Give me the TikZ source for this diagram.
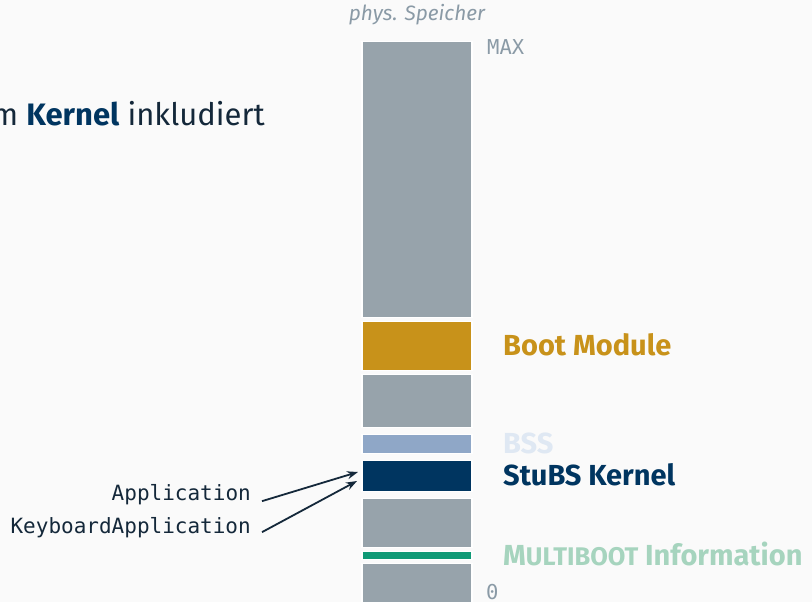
\documentclass[tikz,border=0pt]{standalone}
\usepackage{fontspec}
\setmainfont{Fira Sans}
\setmonofont{DejaVu Sans Mono}
\usetikzlibrary{arrows.meta}
\definecolor{bgc}{HTML}{FAFAFA}
\definecolor{memgrey}{HTML}{97A3AB}
\definecolor{gold}{HTML}{C8921A}
\definecolor{bsscol}{HTML}{8FA7C7}
\definecolor{kern}{HTML}{003560}
\definecolor{mbgreen}{HTML}{0F9A76}
\definecolor{bsstext}{HTML}{DFE8F3}
\definecolor{mbtext}{HTML}{A6D4BE}
\definecolor{darktext}{HTML}{14283A}
\definecolor{greytext}{HTML}{8A9AA6}
\tikzset{
  blk/.style={draw=white, line width=1.2pt, inner sep=0pt, minimum width=110pt, anchor=north},
  lbl/.style={inner sep=0pt, anchor=base west, font=\fontsize{29}{30}\selectfont\bfseries},
  code/.style={inner sep=0pt, anchor=base east, text=darktext, font=\fontsize{21}{22}\selectfont\ttfamily},
  addr/.style={inner sep=0pt, anchor=base west, text=greytext, font=\fontsize{20.5}{22}\selectfont\ttfamily},
  ptr/.style={draw=darktext, line width=1.8pt, -{Stealth[length=11pt,width=8pt]}}
}
\begin{document}
\begin{tikzpicture}[x=1pt,y=-1pt]
\fill[bgc] (0,0) rectangle (812,602);
\useasboundingbox (0,0) rectangle (812,602);
% memory blocks
\node[blk, fill=memgrey, minimum height=276pt] (free) at (417,41) {};
\node[blk, fill=gold, minimum height=49pt] (boot) at (417,320.5) {};
\node[blk, fill=memgrey, minimum height=53pt] (gap1) at (417,373.5) {};
\node[blk, fill=bsscol, minimum height=19pt] (bss) at (417,434) {};
\node[blk, fill=kern, minimum height=31pt] (kernel) at (417,460) {};
\node[blk, fill=memgrey, minimum height=49pt] (gap2) at (417,498) {};
\node[blk, fill=mbgreen, minimum height=8pt] (mb) at (417,551) {};
\node[blk, fill=memgrey, minimum height=45pt] (low) at (417,562.5) {};
% titles
\node[inner sep=0pt, anchor=base, text=greytext, font=\fontsize{20.8}{22}\selectfont\itshape] (title) at (417,21) {phys. Speicher};
\node[addr] (max) at (487,55) {MAX};
\node[addr] (zero) at (486,599) {0};
\node[inner sep=0pt, anchor=base west, text=darktext, font=\fontsize{31}{33}\selectfont] (head) at (-8.5,125) {m \textcolor{kern}{\bfseries Kernel} inkludiert};
% labels
\node[lbl, text=gold] (lboot) at (503,355) {Boot Module};
\node[lbl, text=bsstext] (lbss) at (503,453) {BSS};
\node[lbl, text=kern] (lkern) at (503,485) {StuBS Kernel};
\node[lbl, text=mbtext] (lmb) at (503,565) {M{\fontsize{25.5}{26}\selectfont ULTIBOOT} Information};
% code labels and pointers
\node[code] (app) at (251,500) {Application};
\node[code] (kbapp) at (251,533) {KeyboardApplication};
\coordinate (k1) at (358,472);
\coordinate (k2) at (357,481);
\draw[ptr] ([xshift=11pt,yshift=-7pt]app.east) -- (k1);
\draw[ptr] ([xshift=11pt,yshift=-5pt]kbapp.east) -- (k2);
\end{tikzpicture}
\end{document}
